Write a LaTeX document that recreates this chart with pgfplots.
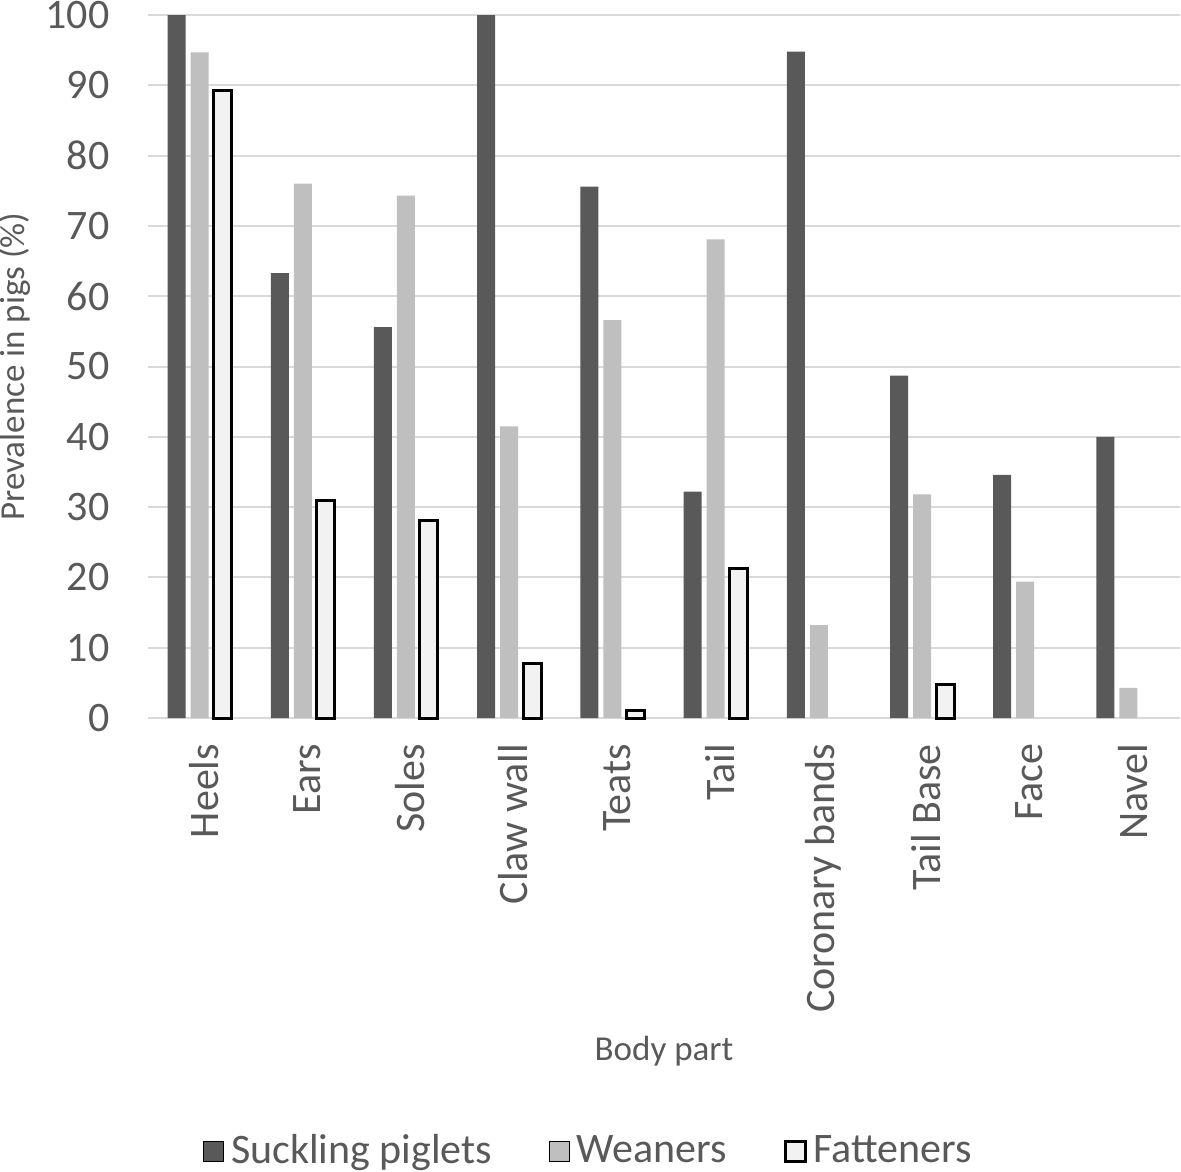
\documentclass[border=0pt]{standalone}
\usepackage{pgfplots}
\pgfplotsset{compat=1.18}
\usepackage{fontspec}
\setmainfont{Carlito}
\definecolor{suck}{HTML}{595959}
\definecolor{wean}{HTML}{BFBFBF}
\definecolor{fatt}{HTML}{F2F2F2}
\definecolor{gridc}{HTML}{D9D9D9}
\definecolor{txt}{HTML}{595959}
\begin{document}
\begin{tikzpicture}
\begin{axis}[
    scale only axis,
    width=309.6pt, height=210.9pt,
    ybar=1.5pt, bar width=5.4pt,
    xmin=-0.5, xmax=9.5,
    ymin=0, ymax=100,
    ytick={0,10,...,100},
    xtick={0,...,9},
    xticklabels={Heels,Ears,Soles,Claw wall,Teats,Tail,Coronary bands,Tail Base,Face,Navel},
    axis line style={draw=none},
    tick style={draw=none},
    ymajorgrids, grid style={gridc, line width=0.6pt},
    /pgf/number format/assume math mode=true,
    tick label style={font=\fontsize{12.6}{15}\selectfont, text=txt},
    yticklabel style={anchor=east, xshift=-8pt},
    xticklabel style={rotate=90, anchor=east, yshift=-1.3pt},
    ylabel={Prevalence in pigs (\%)},
    xlabel={Body part},
    label style={font=\fontsize{10.5}{12}\selectfont, text=txt},
    ylabel style={at={([xshift=-40pt]axis description cs:0,0.5)}, anchor=center, rotate=0},
    xlabel style={at={([yshift=-100pt]axis description cs:0.5,0)}, anchor=center},
    legend columns=3,
    legend style={at={(axis description cs:0.5,0)}, anchor=center, xshift=-22pt, yshift=-130pt,
        draw=none, font=\fontsize{12.6}{15}\selectfont, text=txt,
        /tikz/every even column/.append style={column sep=15pt}},
    legend image code/.code={\draw[#1] (0pt,-3pt) rectangle (6pt,3pt);},
    clip=false,
]
\addplot[fill=suck, draw=none] coordinates {
    (0,100) (1,63.3) (2,55.6) (3,100) (4,75.6) (5,32.2) (6,94.8) (7,48.7) (8,34.6) (9,40)
};
\addplot[fill=wean, draw=none] coordinates {
    (0,94.7) (1,76) (2,74.3) (3,41.5) (4,56.6) (5,68.1) (6,13.2) (7,31.8) (8,19.4) (9,4.3)
};
\addplot[fill=fatt, draw=black, line width=0.9pt] coordinates {
    (0,89.3) (1,31) (2,28.1) (3,7.7) (4,1) (5,21.3) (7,4.8)
};
\legend{Suckling piglets, Weaners, Fatteners}
\end{axis}
\pgfresetboundingbox
\path[use as bounding box] ([xshift=-44.4pt,yshift=-136.2pt]current axis.south west) rectangle ([xshift=0.3pt,yshift=4.5pt]current axis.north east);
\end{tikzpicture}
\end{document}
